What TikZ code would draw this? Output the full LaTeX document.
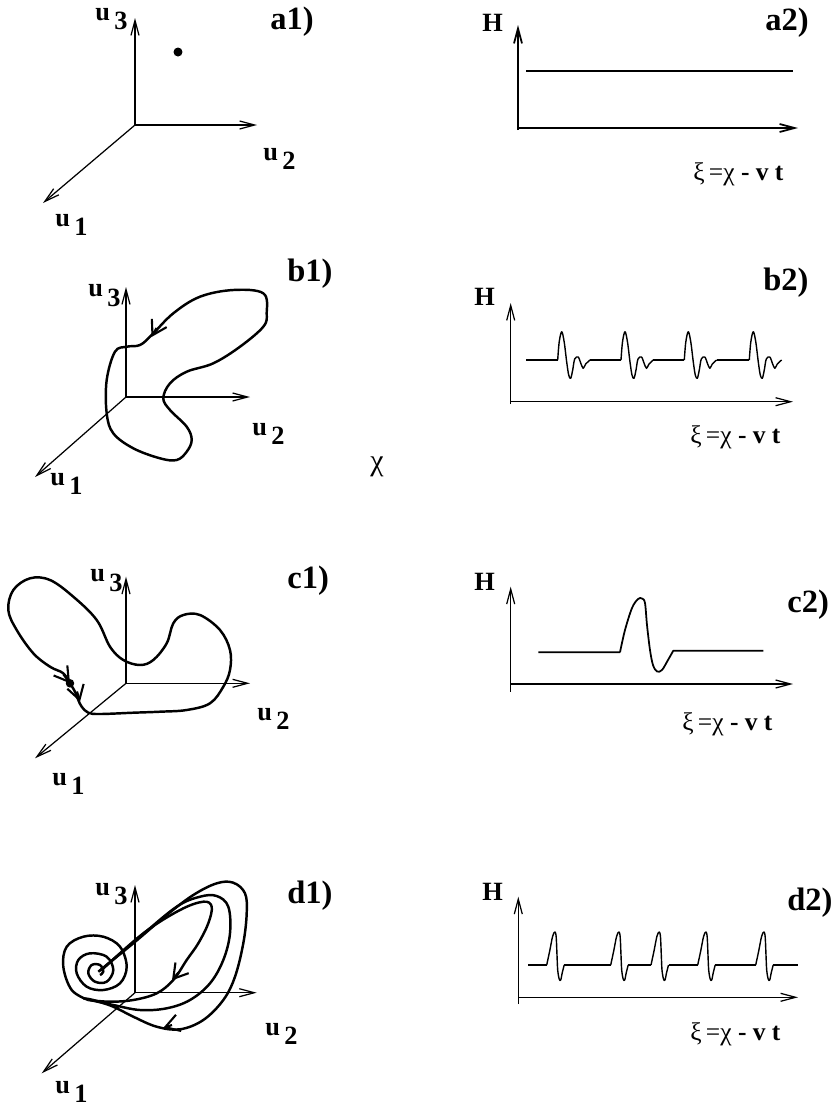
\documentclass[tikz,border=0pt]{standalone}
\usepackage{fontspec}
\setmainfont{Liberation Serif}
\usetikzlibrary{arrows.meta}

\tikzset{
  axis/.style={line width=0.7pt, -{Straight Barb[length=3mm,width=1.6mm]}},
  orbit/.style={line width=1.4pt, line join=round},
  flowarrow/.style={line width=1.2pt, -{Straight Barb[length=2.8mm,width=3.4mm]}},
  wave/.style={line width=0.8pt, line join=round},
  ulabel/.style={anchor=base west, inner sep=0pt, font=\fontsize{15}{15}\selectfont\bfseries},
  panel/.style={anchor=base west, inner sep=0pt, font=\fontsize{18.5}{18.5}\selectfont\bfseries},
  xilabel/.style={anchor=base west, inner sep=0pt, font=\fontsize{14.5}{14.5}\selectfont},
}
\newcommand{\ulab}[1]{u\,\raisebox{-5.5pt}{#1}}
\newcommand{\xitext}{ξ\,=χ \textbf{- v t}}

\begin{document}
\begin{tikzpicture}[x=0.02cm, y=-0.02cm]
\useasboundingbox (0,0) rectangle (835,1107);

% a1) fixed point
\coordinate (oA) at (135,125);
\coordinate (tA1) at (43,203);
\coordinate (tA2) at (257,125);
\coordinate (tA3) at (135,18);
\draw[axis] (oA) -- (tA1);
\draw[axis] (oA) -- (tA2);
\draw[axis] (oA) -- (tA3);
\fill (178,52) circle (0.09cm);
\node[ulabel] (uA3) at (95,20) {\ulab{3}};
\node[ulabel] (uA2) at (263,160) {\ulab{2}};
\node[ulabel] (uA1) at (55,226) {\ulab{1}};
\node[panel] (pA1) at (270,29) {a1)};

% a2)
\coordinate (oH) at (518,130);
\coordinate (tHy) at (518,25);
\coordinate (tHx) at (798,128);
\draw[axis, line width=1pt] (518,128) -- (tHx);
\draw[axis, line width=1pt] (oH) -- (tHy);
\draw[orbit] (526,71) -- (793,71);
\node[ulabel] (hA) at (482,31) {H};
\node[panel] (pA2) at (765,30) {a2)};
\node[xilabel] (xA) at (693,180) {\xitext};

% b1) limit cycle
\coordinate (oB) at (126,397);
\coordinate (tB1) at (35,477);
\coordinate (tB2) at (250,397);
\coordinate (tB3) at (126,287);
\draw[axis] (oB) -- (tB1);
\draw[axis] (oB) -- (tB2);
\draw[axis] (oB) -- (tB3);
\draw[orbit] plot[smooth cycle, tension=0.6] coordinates {
  (151.7,335) (173.3,313.3) (200,296.7) (233.3,290) (263.3,293.3)
  (266.7,313.3) (263.3,326.7) (240,346.7) (213.3,363.3) (186.7,371.7)
  (170,383.3) (163.3,398.3) (170,410) (186.7,426.7) (191.7,440)
  (186.7,451.7) (176.7,460) (160,458.3) (133.3,448.3) (113.3,433.3)
  (106.7,413.3) (106.7,380) (115,351.7) (126.7,346.7) (140,345)};
\draw[flowarrow] (156.5,328) -- (151.5,337);
\node[ulabel] (uB3) at (88,296.7) {\ulab{3}};
\node[ulabel] (uB2) at (252,435) {\ulab{2}};
\node[ulabel] (uB1) at (50,485) {\ulab{1}};
\node[panel] (pB1) at (287,281.7) {b1)};
\node[font=\fontsize{17}{17}\selectfont] (chi) at (377,467) {χ};

% b2)
\coordinate (oHb) at (510.7,404);
\coordinate (tHby) at (510.7,303);
\coordinate (tHbx) at (793,401.7);
\draw[axis] (510.7,401.7) -- (tHbx);
\draw[axis] (oHb) -- (tHby);
\foreach \a/\b in {526/557.7, 590/621, 653.3/684.3, 716.6/749.3}
  \draw[wave] (\a,360) -- (\b,360);
\foreach \s in {557.7,621,684.3,749.3}
  \draw[wave] plot[smooth, tension=0.55] coordinates {(\s,360) (\s+1.5,342)
    (\s+4,331.7) (\s+6.5,342) (\s+9,362) (\s+11,375) (\s+13,378.3)
    (\s+15,370) (\s+17,359) (\s+20.5,357) (\s+23,363) (\s+25.5,368.3)
    (\s+28,364) (\s+32.3,360)};
\node[ulabel] (hB) at (474,305) {H};
\node[panel] (pB2) at (763,290) {b2)};
\node[xilabel] (xB) at (690,443) {\xitext};

% c1) homoclinic loop
\coordinate (oC) at (126,683.3);
\coordinate (tC1) at (35,758.3);
\coordinate (tC2) at (250,683.3);
\coordinate (tC3) at (126,576.7);
\draw[axis] (oC) -- (tC1);
\draw[axis] (oC) -- (tC2);
\draw[axis] (oC) -- (tC3);
\draw[orbit] plot[smooth, tension=0.6] coordinates {
  (70,683.3) (63.3,673.3) (50,666.7) (33.3,653.3) (16.7,630) (8.3,610)
  (13.3,590) (30,578.3) (50,580) (73.3,596.7) (96.7,620) (110,646.7)
  (123.3,660) (140,665) (153.3,660) (166.7,643.3) (173.3,623.3)
  (183.3,615) (200,615) (220,630) (230,650) (230,670) (223.3,686.7)
  (210,703.3) (186.7,710) (160,711.7) (133.3,712.7) (100,714)
  (88.3,712.7) (81.7,706.7) (78.3,700) (75,691.7) (70,683.3)};
\fill (70,683.3) circle (0.085cm);
\draw[flowarrow] (63.5,674.5) -- (70,683.3);
\draw[flowarrow] (77,691.5) -- (80,701.7);
\node[ulabel] (uC3) at (90,581.7) {\ulab{3}};
\node[ulabel] (uC2) at (257,720) {\ulab{2}};
\node[ulabel] (uC1) at (52,785) {\ulab{1}};
\node[panel] (pC1) at (287,588) {c1)};

% c2)
\coordinate (oHc) at (510.7,691.7);
\coordinate (tHcy) at (510.7,586.7);
\coordinate (tHcx) at (793,684);
\draw[axis] (510.7,684) -- (tHcx);
\draw[axis] (oHc) -- (tHcy);
\draw[wave, line width=1pt] (538.3,652.3) -- (620,652.3)
  plot[smooth, tension=0.55] coordinates {(620,652.3) (625,630) (632,608)
    (638,599) (642,598.5) (645,603) (647,625) (650,650) (653,665)
    (657,671.5) (662,670) (668,660) (673.3,650.7)}
  -- (763.3,650.7);
\node[ulabel] (hC) at (474,590) {H};
\node[panel] (pC2) at (787,612) {c2)};
\node[xilabel] (xC) at (682,730) {\xitext};

% d1) strange attractor
\coordinate (oD) at (135,992.7);
\coordinate (tD1) at (41.7,1073.3);
\coordinate (tD2) at (256.7,992.7);
\coordinate (tD3) at (135,885);
\draw[axis] (oD) -- (tD1);
\draw[axis] (oD) -- (tD2);
\draw[axis] (oD) -- (tD3);
\draw[orbit] plot[smooth, tension=0.6] coordinates {
  (88.3,1000) (71.7,990) (63.3,966.7) (66.7,946.7) (83.3,936.7)
  (103.3,936.7) (120,946.7) (126.7,966.7) (120,983.3) (103.3,990)
  (86.7,986.7) (76.7,973.3) (78.3,960) (90,953.3) (106.7,956.7)
  (113.3,970) (106.7,981.7) (95,981.7) (88.3,973.3) (91.7,965)
  (100,965) (103.3,971.7) (100,975)};
\draw[orbit] plot[smooth, tension=0.6] coordinates {
  (98.3,971.7) (133.3,943.3) (166.7,915) (193.3,895) (216.7,883.3)
  (233.3,882.7) (245,893.3) (246.7,913.3) (243.3,943.3) (235,976.7)
  (223.3,1000) (203.3,1020) (180,1029.3) (156.7,1026.7) (133.3,1016.7)
  (113.3,1006.7) (93.3,1000) (83.3,998.3)};
\draw[orbit] plot[smooth, tension=0.6] coordinates {
  (100,970.7) (140,936.7) (176.7,906.7) (200,896.7) (216.7,896)
  (228.3,906.7) (230,933.3) (223.3,960) (210,983.3) (190,1000)
  (166.7,1008.3) (140,1010) (113.3,1005) (90,1000)};
\draw[orbit] plot[smooth, tension=0.6] coordinates {
  (101.7,970) (143.3,933.3) (180,910) (203.3,901.7) (211.7,906.7)
  (208.3,923.3) (198.3,943.3) (186.7,960) (173.3,980) (156.7,993.3)
  (133.3,1000) (110,1001.7) (88.3,1000)};
\draw[flowarrow] (178.3,972.5) -- (172,980.3);
\draw[flowarrow] (172,1025) -- (163.3,1027.8);
\node[ulabel] (uD3) at (95,895) {\ulab{3}};
\node[ulabel] (uD2) at (265,1035) {\ulab{2}};
\node[ulabel] (uD1) at (55,1093) {\ulab{1}};
\node[panel] (pD1) at (287,903) {d1)};

% d2)
\coordinate (oHd) at (518.3,1004);
\coordinate (tHdy) at (518.3,896.7);
\coordinate (tHdx) at (798,997.3);
\draw[axis] (518.3,997.3) -- (tHdx);
\draw[axis] (oHd) -- (tHdy);
\foreach \a/\b in {528.3/546.7, 564.2/610.7, 628.2/651, 668.5/697.7, 715.2/755.7, 773.2/798.3}
  \draw[wave] (\a,965) -- (\b,965);
\foreach \s in {546.7,610.7,651,697.7,755.7}
  \draw[wave] plot[smooth, tension=0.55] coordinates {(\s,965) (\s+3,951)
    (\s+6,936) (\s+8.3,932) (\s+9.5,937) (\s+10.3,955) (\s+11,970)
    (\s+12.5,979) (\s+14,980) (\s+15.5,973) (\s+17.5,965)};
\node[ulabel] (hD) at (482,900) {H};
\node[panel] (pD2) at (787,910) {d2)};
\node[xilabel] (xD) at (690,1040) {\xitext};

\end{tikzpicture}
\end{document}
